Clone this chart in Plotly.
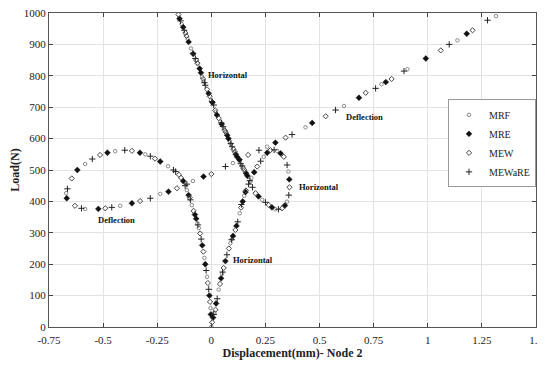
import plotly.graph_objects as go

# ---------------- data ----------------
methods = ["MRF", "MRE", "MEW", "MEWaRE"]

# Deflection curve (Node 2), per method
mrf_def_x = [0, -0.004, -0.02, -0.032, -0.058, -0.064, -0.09, -0.113, -0.2, -0.305, -0.444, -0.583, -0.671, -0.583, -0.421, -0.236, -0.085, 0.1, 0.258, 0.435, 0.613, 0.786, 0.906, 1.137, 1.315]
mrf_def_y = [0, 60, 160, 220, 315, 330, 388, 436, 512, 550, 560, 519, 426, 376, 386, 424, 465, 522, 574, 636, 704, 773, 821, 913, 990]

mre_def_x = [-0.002, -0.009, -0.028, -0.042, -0.07, -0.076, -0.105, -0.13, -0.236, -0.33, -0.48, -0.619, -0.668, -0.522, -0.367, -0.198, -0.036, 0.13, 0.296, 0.466, 0.682, 0.806, 0.991, 1.18]
mre_def_y = [40, 100, 200, 260, 345, 358, 420, 465, 527, 555, 555, 500, 410, 376, 394, 431, 479, 533, 587, 650, 730, 780, 855, 934]

mew_def_x = [-0.006, -0.016, -0.037, -0.052, -0.082, -0.1, -0.14, -0.15, -0.26, -0.367, -0.514, -0.645, -0.63, -0.49, -0.329, -0.159, 0, 0.17, 0.343, 0.528, 0.713, 0.833, 1.06, 1.207]
mew_def_y = [80, 140, 240, 298, 370, 412, 475, 485, 536, 561, 548, 473, 386, 378, 401, 442, 487, 548, 603, 671, 746, 790, 881, 945]

mewa_def_x = [-0.012, -0.024, -0.047, -0.062, -0.097, -0.121, -0.165, -0.175, -0.282, -0.4, -0.55, -0.665, -0.6, -0.46, -0.282, -0.113, 0.065, 0.22, 0.373, 0.574, 0.759, 0.89, 1.099, 1.276]
mewa_def_y = [120, 180, 280, 325, 405, 450, 495, 500, 544, 563, 535, 440, 378, 381, 410, 455, 511, 563, 613, 691, 760, 815, 900, 977]

# Horizontal displacement curve (Node 2), per method
mrf_hor_x = [0, 0.014, 0.034, 0.05, 0.088, 0.095, 0.131, 0.152, 0.185, 0.242, 0.304, 0.356, 0.35, 0.296, 0.235, 0.18, 0.17, 0.13, 0.125, 0.09, 0.084, 0.058, 0.042, 0.02, -0.001, -0.035, -0.043, -0.064, -0.094, -0.11, -0.137]
mrf_hor_y = [0, 45, 119, 170, 267, 280, 362, 418, 475, 542, 561, 495, 399, 375, 405, 462, 478, 528, 535, 583, 592, 632, 654, 685, 722, 783, 797, 840, 887, 918, 965]

mre_hor_x = [0.008, 0.022, 0.045, 0.065, 0.1, 0.116, 0.145, 0.158, 0.198, 0.258, 0.32, 0.36, 0.34, 0.28, 0.218, 0.166, 0.16, 0.119, 0.113, 0.079, 0.073, 0.048, 0.026, 0.005, -0.0125, -0.048, -0.054, -0.084, -0.105, -0.13, -0.147]
mre_hor_y = [30, 75, 155, 210, 290, 322, 400, 430, 493, 555, 553, 470, 387, 381, 416, 482, 490, 542, 550, 600, 611, 646, 675, 715, 744, 810, 823, 870, 908, 955, 982]

mew_hor_x = [0.004, 0.019, 0.04, 0.057, 0.081, 0.111, 0.137, 0.16, 0.212, 0.273, 0.335, 0.361, 0.327, 0.265, 0.204, 0.152, 0.147, 0.108, 0.102, 0.067, 0.062, 0.034, 0.018, -0.008, -0.02, -0.038, -0.064, -0.07, -0.115, -0.12, -0.152]
mew_hor_y = [15, 55, 137, 188, 250, 309, 380, 435, 511, 563, 542, 445, 378, 389, 426, 500, 506, 558, 566, 620, 626, 665, 690, 735, 757, 790, 840, 850, 927, 936, 995]

mewa_hor_x = [0.011, 0.027, 0.052, 0.072, 0.094, 0.122, 0.139, 0.172, 0.178, 0.228, 0.29, 0.35, 0.358, 0.31, 0.25, 0.19, 0.142, 0.136, 0.096, 0.09, 0.054, 0.046, 0.011, 0.003, -0.028, -0.032, -0.074, -0.085, -0.125, -0.142]
mewa_hor_y = [40, 90, 175, 230, 278, 335, 390, 455, 466, 528, 564, 516, 420, 375, 397, 445, 513, 520, 574, 584, 638, 650, 707, 718, 770, 778, 855, 872, 945, 975]

x_ticks = [-0.75, -0.5, -0.25, 0, 0.25, 0.5, 0.75, 1, 1.25, 1.5]
x_tick_labels = ["-0.75", "-0.5", "-0.25", "0", "0.25", "0.5", "0.75", "1", "1.25", "1.5"]
y_ticks = [0, 100, 200, 300, 400, 500, 600, 700, 800, 900, 1000]

labels_text = ["Horizontal", "Deflection", "Horizontal", "Horizontal", "Deflection"]
labels_x = [-0.023, 0.611, 0.398, 0.093, -0.532]
labels_y = [802, 668, 446, 214, 341]

# ---------------- figure ----------------
SERIF = "Liberation Serif"

series = [
    ("MRF", mrf_def_x + mrf_hor_x, mrf_def_y + mrf_hor_y,
     dict(symbol="circle-open", size=3.5, color="#8a8a8a", line=dict(width=1, color="#8a8a8a"))),
    ("MRE", mre_def_x + mre_hor_x, mre_def_y + mre_hor_y,
     dict(symbol="diamond", size=4.5, color="#111111", line=dict(width=0.5, color="#111111"))),
    ("MEW", mew_def_x + mew_hor_x, mew_def_y + mew_hor_y,
     dict(symbol="diamond-open", size=4, color="#444444", line=dict(width=1, color="#444444"))),
    ("MEWaRE", mewa_def_x + mewa_hor_x, mewa_def_y + mewa_hor_y,
     dict(symbol="cross-thin-open", size=4.5, color="#222222", line=dict(width=1, color="#222222"))),
]

fig = go.Figure()
for name, xs, ys, mk in series:
    fig.add_trace(go.Scatter(x=xs, y=ys, mode="markers", name=name, marker=mk))

for t, ax, ay in zip(labels_text, labels_x, labels_y):
    fig.add_annotation(x=ax, y=ay, text="<b>%s</b>" % t, showarrow=False,
                       xanchor="left", yanchor="middle",
                       font=dict(family=SERIF, size=8.5, color="#111111"))

axis_common = dict(
    showgrid=True, gridcolor="#e3e3e3", gridwidth=1,
    showline=True, linecolor="#555555", linewidth=1, mirror="ticks",
    ticks="inside", ticklen=4, tickcolor="#444444",
    zeroline=False, automargin=False, ticklabeloverflow="allow",
    tickfont=dict(family=SERIF, size=11, color="#222222"),
)

fig.update_xaxes(range=[-0.75, 1.5], tickvals=x_ticks, ticktext=x_tick_labels,
                 ticklabelstandoff=3,
                 title=dict(text="<b>Displacement(mm)- Node 2</b>",
                            font=dict(family=SERIF, size=12, color="#222222"), standoff=2),
                 **axis_common)
fig.update_yaxes(range=[0, 1000], tickvals=y_ticks,
                 title=dict(text="<b>Load(N)</b>",
                            font=dict(family=SERIF, size=12, color="#222222"), standoff=4),
                 **axis_common)

# the page body adds an 8 px offset, compensated in the margins
fig.update_layout(
    width=545, height=365,
    margin=dict(l=41, r=17, t=5, b=46),
    paper_bgcolor="white", plot_bgcolor="white",
    legend=dict(x=1.0, y=0.725, xanchor="right", yanchor="top",
                bgcolor="white", bordercolor="#999999", borderwidth=1,
                font=dict(family=SERIF, size=10, color="#222222"),
                itemwidth=30, tracegroupgap=0),
    showlegend=True,
)

fig.write_html("out.html")
